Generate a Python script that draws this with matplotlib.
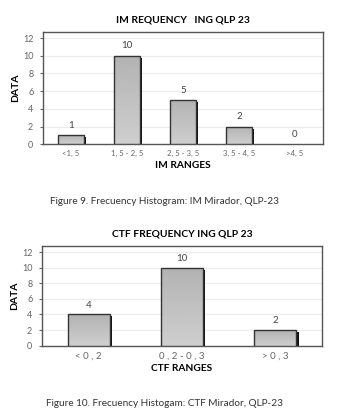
import matplotlib.pyplot as plt
import numpy as np

im_ranges = ['<1, 5', '1, 5 - 2, 5', '2, 5 - 3, 5', '3, 5 - 4, 5', '>4, 5']
im_counts = [1, 10, 5, 2, 0]
ctf_ranges = ['< 0 , 2', '0 , 2 - 0 , 3', '> 0 , 3']
ctf_counts = [4, 10, 2]

W, H = 358, 420
fig = plt.figure(figsize=(W / 100, H / 100), dpi=100)
fig.patch.set_facecolor('white')

grad = np.linspace(0.70, 0.81, 64).reshape(-1, 1)


def draw_chart(ax, cats, vals, width, ytop, title, xlabel, tick_fs):
    n = len(cats)
    ax.set_xlim(-0.5, n - 0.5)
    ax.set_ylim(0, ytop)
    bbox = ax.get_position()
    px_x = bbox.width * W / n          # pixels per category
    px_y = bbox.height * H / ytop      # pixels per unit
    sw = 2.2 / px_x
    sd = 2.0 / px_y
    ax.set_yticks(range(0, 13, 2))
    ax.yaxis.grid(True, color='#ececec', lw=0.8)
    ax.set_axisbelow(True)
    for i, v in enumerate(vals):
        ax.text(i, v + 0.6, str(v), ha='center', va='bottom',
                fontsize=7, color='#444444', family='Lato')
        if v <= 0:
            continue
        x0 = i - width / 2
        # dark shadow on the right side
        ax.bar(x0 + width + sw / 2, max(v - sd, 0), width=sw,
               color='#111111', zorder=2)
        bars = ax.bar(i, v, width=width, color='none',
                      edgecolor='#333333', lw=1.0, zorder=4)
        img = ax.imshow(grad, cmap='gray', vmin=0, vmax=1, aspect='auto',
                        extent=(x0, x0 + width, 0, v), origin='upper',
                        zorder=3)
        img.set_clip_path(bars[0])
    ax.set_xlim(-0.5, n - 0.5)
    ax.set_ylim(0, ytop)
    ax.set_xticks(range(n))
    ax.set_xticklabels(cats, fontsize=tick_fs, color='#666666', family='Lato')
    ax.tick_params(axis='y', labelsize=6.5, labelcolor='#666666',
                   length=2, color='#666666', pad=5)
    for t in ax.get_yticklabels():
        t.set_family('Lato')
    ax.tick_params(axis='x', length=0, pad=4)
    for s in ax.spines.values():
        s.set_color('#555555')
        s.set_linewidth(1.0)
    ax.set_title(title, fontsize=7.4, fontweight='bold', pad=7, family='Lato')
    ax.set_xlabel(xlabel, fontsize=7.3, fontweight='bold', labelpad=3,
                  family='Lato')
    ax.set_ylabel('DATA', fontsize=7.5, fontweight='bold', labelpad=2,
                  family='Lato')


ax1 = fig.add_axes([43 / W, 1 - 144.3 / H, 280 / W, 112.3 / H])
draw_chart(ax1, im_ranges, im_counts, 0.47, 12.68,
           'IM REQUENCY   ING QLP 23', 'IM RANGES', 5.6)

ax2 = fig.add_axes([42 / W, 1 - 345.7 / H, 280 / W, 99.7 / H])
draw_chart(ax2, ctf_ranges, ctf_counts, 0.45, 12.77,
           'CTF FREQUENCY ING QLP 23', 'CTF RANGES', 7)

fig.text(50 / W, 1 - 201 / H, 'Figure 9. Frecuency Histogram: IM Mirador, QLP-23',
         fontsize=7.2, color='#333333', va='center', family='Lato')
fig.text(46 / W, 1 - 404 / H, 'Figure 10. Frecuency Histogam: CTF Mirador, QLP-23',
         fontsize=7.2, color='#333333', va='center', family='Lato')

fig.savefig('out.png', dpi=100, facecolor='white')
